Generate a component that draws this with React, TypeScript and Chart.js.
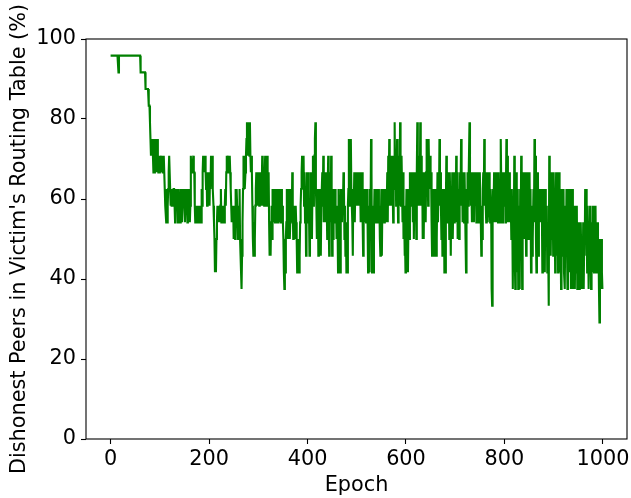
import React, { useEffect, useRef } from "react";
import { Chart, registerables } from "chart.js";

Chart.register(...registerables);

// Routing table holds 24 peers; values below are dishonest-peer counts read per epoch.
const ROUTING_TABLE_SIZE = 24;

const xTickValues = [0, 200, 400, 600, 800, 1000];
const yTickValues = [0, 20, 40, 60, 80, 100];
const xTitle = "Epoch";
const yTitle = "Dishonest Peers in Victim's Routing Table (%)";

// epochs 0-99
const dishonest000 = [
  23, 23, 23, 23, 23, 23, 23, 23, 23, 23,
  23, 23, 23, 23, 23, 23, 22, 23, 23, 23,
  23, 23, 23, 23, 23, 23, 23, 23, 23, 23,
  23, 23, 23, 23, 23, 23, 23, 23, 23, 23,
  23, 23, 23, 23, 23, 23, 23, 23, 23, 23,
  23, 23, 23, 23, 23, 23, 23, 23, 23, 23,
  23, 22, 22, 22, 22, 22, 22, 22, 22, 22,
  22, 21, 21, 21, 21, 21, 21, 20, 20, 20,
  19, 18, 17, 18, 17, 18, 18, 16, 18, 16,
  17, 18, 16, 17, 16, 18, 17, 16, 17, 16,
];
// epochs 100-199
const dishonest100 = [
  17, 16, 16, 17, 16, 17, 16, 16, 17, 16,
  16, 14, 14, 13, 15, 13, 14, 15, 16, 17,
  17, 15, 14, 15, 14, 14, 15, 14, 15, 15,
  14, 13, 14, 15, 14, 15, 14, 13, 15, 14,
  14, 13, 15, 14, 15, 13, 14, 15, 14, 15,
  14, 13, 15, 14, 15, 14, 13, 14, 15, 14,
  15, 13, 14, 17, 16, 16, 16, 16, 17, 16,
  16, 14, 13, 14, 13, 14, 13, 14, 13, 14,
  13, 14, 13, 14, 13, 15, 14, 16, 17, 16,
  17, 16, 17, 16, 15, 16, 14, 15, 16, 15,
];
// epochs 200-299
const dishonest200 = [
  15, 14, 16, 15, 17, 16, 17, 16, 15, 14,
  13, 12, 10, 11, 10, 12, 13, 14, 13, 14,
  13, 14, 13, 14, 15, 13, 14, 13, 14, 13,
  14, 13, 14, 15, 14, 16, 17, 16, 16, 17,
  16, 16, 17, 16, 15, 14, 13, 14, 13, 14,
  12, 13, 14, 12, 15, 13, 15, 14, 13, 12,
  14, 13, 15, 12, 11, 10, 9, 11, 13, 15,
  17, 16, 17, 15, 16, 17, 18, 19, 18, 17,
  19, 18, 17, 19, 17, 16, 17, 16, 14, 12,
  11, 13, 11, 12, 14, 15, 16, 15, 16, 14,
];
// epochs 300-399
const dishonest300 = [
  15, 16, 14, 16, 15, 14, 16, 15, 17, 14,
  16, 15, 14, 16, 17, 15, 14, 16, 17, 15,
  14, 16, 13, 11, 12, 11, 13, 14, 12, 15,
  14, 13, 15, 14, 13, 15, 13, 14, 15, 13,
  15, 14, 13, 14, 15, 13, 14, 15, 13, 14,
  13, 12, 10, 9, 11, 10, 12, 13, 15, 14,
  12, 15, 13, 14, 12, 13, 15, 14, 13, 16,
  14, 12, 13, 14, 12, 13, 14, 13, 12, 10,
  11, 10, 12, 10, 11, 13, 14, 15, 16, 17,
  15, 16, 17, 14, 16, 13, 15, 11, 14, 16,
];
// epochs 400-499
const dishonest400 = [
  14, 13, 16, 15, 11, 14, 13, 16, 14, 12,
  15, 17, 14, 16, 17, 18, 19, 15, 14, 12,
  13, 15, 11, 14, 12, 15, 13, 11, 14, 15,
  16, 14, 17, 13, 16, 15, 14, 13, 16, 14,
  12, 15, 17, 13, 11, 14, 16, 13, 17, 15,
  11, 14, 12, 15, 13, 14, 15, 13, 14, 12,
  14, 13, 10, 15, 13, 14, 10, 13, 15, 14,
  13, 15, 14, 16, 15, 12, 14, 11, 13, 10,
  12, 10, 14, 15, 18, 14, 17, 16, 18, 15,
  14, 13, 11, 15, 14, 16, 13, 15, 14, 16,
];
// epochs 500-599
const dishonest500 = [
  15, 16, 14, 15, 14, 16, 14, 15, 13, 16,
  15, 16, 13, 11, 14, 15, 13, 14, 15, 13,
  14, 15, 13, 10, 14, 12, 10, 15, 13, 18,
  16, 10, 14, 12, 10, 13, 15, 14, 13, 15,
  14, 15, 13, 14, 15, 13, 14, 12, 11, 13,
  15, 11, 14, 13, 15, 14, 13, 15, 14, 13,
  15, 14, 16, 13, 17, 15, 18, 14, 16, 15,
  17, 14, 16, 15, 13, 17, 16, 19, 15, 17,
  14, 16, 18, 15, 13, 16, 17, 14, 19, 16,
  14, 17, 15, 13, 16, 12, 14, 11, 13, 10,
];
// epochs 600-699
const dishonest600 = [
  13, 15, 11, 14, 10, 13, 15, 12, 16, 14,
  15, 16, 14, 15, 13, 16, 12, 15, 14, 16,
  15, 12, 16, 19, 14, 17, 15, 16, 14, 19,
  15, 17, 14, 16, 12, 14, 12, 15, 16, 14,
  13, 16, 18, 15, 17, 14, 18, 16, 15, 17,
  15, 16, 13, 11, 14, 12, 15, 11, 14, 13,
  15, 11, 14, 12, 16, 13, 15, 14, 18, 15,
  16, 14, 12, 15, 11, 14, 13, 15, 10, 12,
  10, 14, 17, 15, 13, 16, 14, 15, 12, 16,
  14, 11, 15, 13, 16, 12, 14, 15, 13, 16,
];
// epochs 700-799
const dishonest700 = [
  15, 13, 17, 14, 16, 12, 15, 13, 12, 14,
  16, 15, 18, 14, 16, 13, 15, 14, 13, 16,
  14, 12, 10, 15, 13, 16, 14, 15, 16, 19,
  15, 16, 14, 15, 13, 16, 14, 15, 13, 16,
  14, 15, 16, 13, 15, 14, 16, 13, 15, 14,
  16, 14, 13, 11, 14, 12, 15, 16, 14, 18,
  15, 16, 14, 13, 15, 16, 13, 14, 15, 16,
  14, 13, 15, 14, 9, 8, 13, 15, 14, 16,
  13, 15, 14, 16, 13, 14, 15, 13, 16, 14,
  15, 13, 16, 18, 14, 15, 13, 16, 14, 15,
];
// epochs 800-899
const dishonest800 = [
  14, 16, 13, 15, 18, 14, 17, 13, 15, 14,
  16, 13, 15, 14, 12, 15, 13, 9, 14, 12,
  17, 11, 9, 14, 16, 10, 13, 15, 9, 12,
  14, 9, 15, 12, 17, 13, 9, 14, 16, 13,
  15, 12, 16, 14, 11, 15, 13, 16, 12, 15,
  14, 16, 12, 15, 10, 13, 11, 14, 12, 15,
  13, 18, 14, 17, 12, 10, 15, 13, 16, 11,
  14, 15, 13, 14, 13, 15, 14, 10, 13, 15,
  11, 14, 10, 15, 13, 12, 14, 10, 13, 11,
  8, 17, 13, 16, 11, 14, 16, 12, 15, 11,
];
// epochs 900-999
const dishonest900 = [
  16, 12, 15, 10, 14, 16, 11, 16, 13, 10,
  15, 16, 10, 14, 13, 9, 15, 11, 14, 12,
  15, 10, 13, 9, 14, 11, 15, 12, 9, 14,
  11, 15, 13, 10, 15, 9, 14, 12, 15, 9,
  13, 11, 14, 9, 12, 13, 10, 14, 9, 12,
  10, 13, 9, 12, 10, 13, 11, 9, 12, 10,
  13, 9, 12, 11, 15, 12, 15, 13, 10, 14,
  12, 9, 13, 10, 14, 11, 9, 13, 12, 10,
  14, 12, 10, 13, 11, 14, 10, 12, 11, 13,
  10, 12, 9, 7, 12, 10, 9, 12, 10, 9,
];

const dishonestCounts = [
  ...dishonest000, ...dishonest100, ...dishonest200, ...dishonest300, ...dishonest400,
  ...dishonest500, ...dishonest600, ...dishonest700, ...dishonest800, ...dishonest900,
];

const FONT = "'DejaVu Sans', sans-serif";
const FS = 20.8;

const spinesPlugin = {
  id: "spines",
  afterDatasetsDraw(chart: any) {
    const { ctx, chartArea } = chart;
    const { left, top, right, bottom } = chartArea;
    ctx.save();
    ctx.strokeStyle = "#000";
    ctx.lineWidth = 1.1;
    ctx.strokeRect(left, top, right - left, bottom - top);
    ctx.restore();
  },
};

export default function App() {
  const ref = useRef<HTMLCanvasElement | null>(null);

  useEffect(() => {
    if (!ref.current) return;
    const points = dishonestCounts.map((c, epoch) => ({
      x: epoch,
      y: (c / ROUTING_TABLE_SIZE) * 100,
    }));
    const chart = new Chart(ref.current, {
      type: "line",
      data: {
        datasets: [
          {
            data: points,
            borderColor: "#008000",
            borderWidth: 2.1,
            pointRadius: 0,
            tension: 0,
            fill: false,
          },
        ],
      },
      options: {
        responsive: false,
        animation: false,
        events: [],
        layout: { padding: { top: 39, right: 4, left: 0, bottom: 0 } },
        plugins: { legend: { display: false }, tooltip: { enabled: false } },
        scales: {
          x: {
            type: "linear",
            min: -49.95,
            max: 1048.95,
            afterBuildTicks: (scale: any) => {
              scale.ticks = xTickValues.map((v) => ({ value: v }));
            },
            afterFit: (scale: any) => {
              scale.height = 59;
              scale.paddingLeft = 0;
              scale.paddingRight = 0;
            },
            grid: {
              drawOnChartArea: false,
              drawTicks: true,
              tickLength: 5,
              tickColor: "#000",
              tickWidth: 1.1,
            },
            border: { display: false },
            ticks: {
              color: "#000",
              padding: 5,
              maxRotation: 0,
              autoSkip: false,
              font: { family: FONT, size: FS, lineHeight: 1 },
              callback: (v: any) => String(v),
            },
            title: {
              display: true,
              text: xTitle,
              color: "#000",
              padding: { top: 0, bottom: 0 },
              font: { family: FONT, size: FS },
            },
          },
          y: {
            type: "linear",
            min: 0,
            max: 100,
            afterBuildTicks: (scale: any) => {
              scale.ticks = yTickValues.map((v) => ({ value: v }));
            },
            afterFit: (scale: any) => {
              scale.width = 86;
              scale.paddingTop = 0;
              scale.paddingBottom = 0;
            },
            grid: {
              drawOnChartArea: false,
              drawTicks: true,
              tickLength: 5,
              tickColor: "#000",
              tickWidth: 1.1,
            },
            border: { display: false },
            ticks: {
              color: "#000",
              padding: 5,
              autoSkip: false,
              font: { family: FONT, size: FS, lineHeight: 1 },
              callback: (v: any) => String(v),
            },
            title: {
              display: true,
              text: yTitle,
              color: "#000",
              padding: { top: 7.5, bottom: 0 },
              font: { family: FONT, size: FS },
            },
          },
        },
      },
      plugins: [spinesPlugin],
    });
    return () => chart.destroy();
  }, []);

  return (
    <div style={{ position: "fixed", left: 0, top: 0, width: 631, height: 498, background: "#fff" }}>
      <canvas ref={ref} width={631} height={498} style={{ width: 631, height: 498 }} />
    </div>
  );
}
